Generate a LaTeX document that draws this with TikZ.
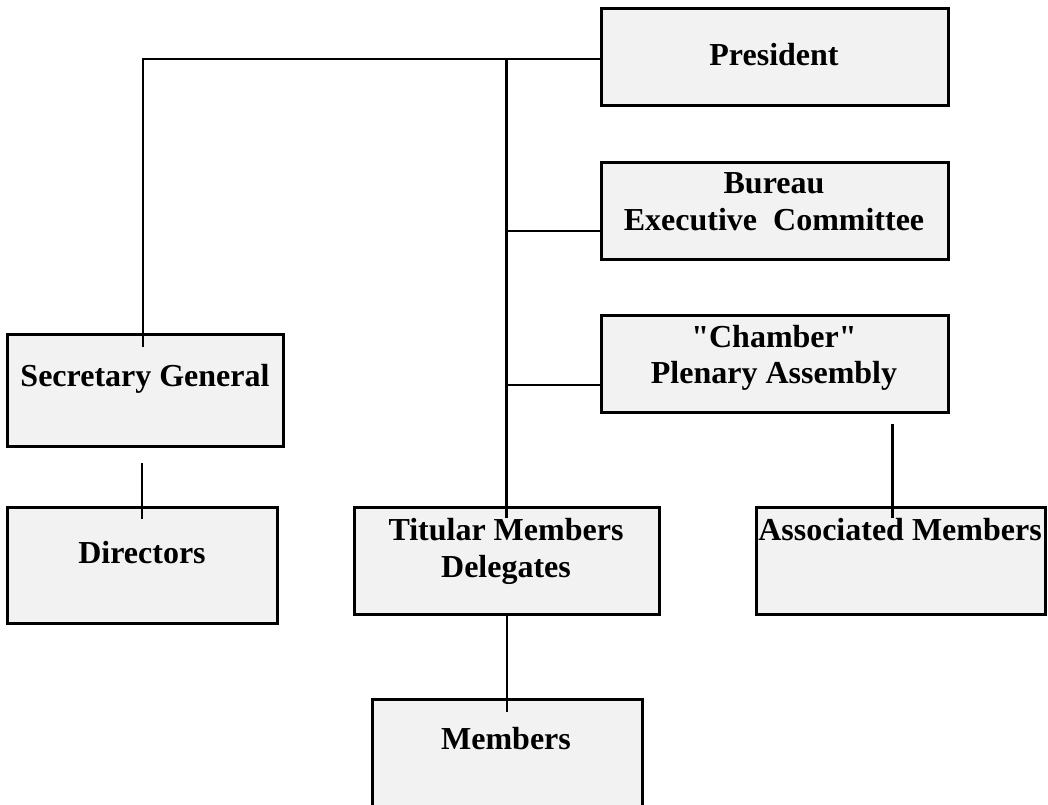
\documentclass[tikz,border=0pt]{standalone}
\usepackage{fontspec}
\setmainfont{Liberation Serif}[Ligatures=TeXOff]
\definecolor{boxfill}{RGB}{242,242,242}
\begin{document}
\begin{tikzpicture}[x=1pt,y=-1pt,
  box/.style={draw=black, fill=boxfill, line width=3pt, rectangle, inner sep=0pt, outer sep=0pt, anchor=north west},
  lbl/.style={anchor=base, inner sep=0pt, font=\fontsize{32}{37}\selectfont\bfseries},
  conn/.style={draw=black, line width=2.5pt}]
\clip (0,0) rectangle (1048,804);
\fill[white] (0,0) rectangle (1048,804);
% boxes
\node[box, minimum width=347pt, minimum height=97pt]  (pres) at (601,8)   {};
\node[box, minimum width=347pt, minimum height=97pt]  (bur)  at (601,162) {};
\node[box, minimum width=347pt, minimum height=97pt]  (cha)  at (601,315) {};
\node[box, minimum width=276pt, minimum height=112pt] (sec)  at (7,334)   {};
\node[box, minimum width=270pt, minimum height=116pt] (dir)  at (7,507)   {};
\node[box, minimum width=305pt, minimum height=107pt] (tit)  at (354,507) {};
\node[box, minimum width=289pt, minimum height=107pt] (asc)  at (756,507) {};
\node[box, minimum width=270pt, minimum height=130pt] (mem)  at (372,699) {};
% labels
\node[lbl] (presT)  at (774,65)  {President};
\node[lbl] (burT1)  at (774,193) {Bureau};
\node[lbl] (burT2)  at (774,230) {Executive\ \ Committee};
\node[lbl] (chaT1)  at (774,347) {"Chamber"};
\node[lbl] (chaT2)  at (774,383) {Plenary Assembly};
\node[lbl] (secT)   at (145,386) {Secretary General};
\node[lbl] (dirT)   at (142,563) {Directors};
\node[lbl] (titT1)  at (506,540) {Titular Members};
\node[lbl] (titT2)  at (506,577) {Delegates};
\node[lbl] (ascT)   at (900,540) {Associated Members};
\node[lbl] (memT)   at (506,749) {Members};
% junction coordinates
\coordinate (top) at ([yshift=-2.5pt]pres.west);
\coordinate (bj)  at ([yshift=-20.5pt]bur.west);
\coordinate (cj)  at ([yshift=-21.5pt]cha.west);
\coordinate (sd)  at ([yshift=-17pt]sec.south);
\coordinate (ca)  at ([xshift=-8pt]asc.north);
\coordinate (cb)  at ([yshift=-12pt]cha.south);
% connectors
\draw[conn] (top) -| ([xshift=-2pt,yshift=-13pt]sec.north);
\draw[conn] (top -| tit.north) -- ([yshift=-11pt]tit.north);
\draw[conn] (bj) -- (bj -| tit.north);
\draw[conn] (cj) -- (cj -| tit.north);
\draw[conn] (sd -| dir.north) -- ([yshift=-12pt]dir.north);
\draw[conn] (cb -| ca) -- ([yshift=-11pt]ca);
\draw[conn] (tit.south -| mem.north) -- ([yshift=-13pt]mem.north);
\end{tikzpicture}
\end{document}
